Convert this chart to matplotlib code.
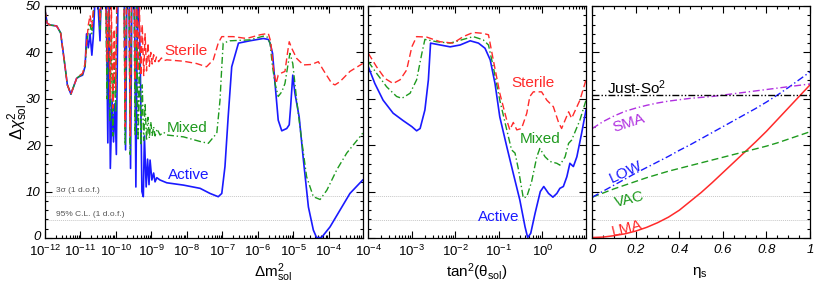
import numpy as np
import matplotlib
matplotlib.use("Agg")
import matplotlib.pyplot as plt
import matplotlib.transforms as mtransforms
from matplotlib.ticker import MultipleLocator, FixedLocator, FixedFormatter, NullFormatter, LogLocator

plt.rcParams['font.family'] = ['Liberation Sans', 'DejaVu Sans']
plt.rcParams['mathtext.fontset'] = 'custom'
plt.rcParams['mathtext.rm'] = 'Liberation Sans'
plt.rcParams['mathtext.it'] = 'Liberation Sans:italic'
plt.rcParams['mathtext.bf'] = 'Liberation Sans:bold'

# ---- panel 1: log10(dm2) vs delta chi2 (values above 50 are off scale)
act_lg = [-12.00, -11.94, -11.86, -11.67, -11.56, -11.46, -11.37, -11.27, -11.20, -11.11,
          -11.03, -10.94, -10.87, -10.83, -10.78, -10.73, -10.68, -10.64, -10.57, -10.53,
          -10.49, -10.45, -10.41, -10.28, -10.23, -10.20, -10.16, -10.11, -10.07, -10.03,
          -9.99, -9.94, -9.77, -9.73, -9.69, -9.63, -9.59, -9.55, -9.48, -9.44,
          -9.39, -9.32, -9.27, -9.23, -9.20, -9.15, -9.11, -9.07, -9.04, -8.99,
          -8.94, -8.90, -8.85, -8.76, -8.57, -8.10, -7.63, -7.35, -7.12, -7.02,
          -6.93, -6.84, -6.74, -6.55, -6.23, -5.85, -5.71, -5.66, -5.59, -5.52,
          -5.43, -5.33, -5.19, -5.12, -5.08, -5.02, -4.96, -4.84, -4.72, -4.58,
          -4.44, -4.35, -4.21, -3.97, -3.69, -3.41, -3.05]
act_chi = [49.1, 46.3, 45.9, 45.7, 44.2, 38.4, 33.0, 31.0, 32.5, 34.4,
           34.8, 35.1, 37.0, 44.0, 41.0, 44.0, 39.4, 43.3, 55.0, 55.0,
           48.0, 42.5, 55.0, 55.0, 20.5, 55.0, 15.0, 30.0, 20.7, 29.0,
           18.0, 55.0, 55.0, 19.0, 55.0, 55.0, 15.0, 55.0, 55.0, 11.0,
           55.0, 40.0, 10.0, 8.9, 22.0, 11.0, 17.0, 11.5, 16.8, 12.5,
           14.0, 12.1, 13.0, 12.5, 11.9, 11.4, 10.7, 9.6, 8.9, 9.6,
           15.4, 26.1, 36.9, 42.0, 42.5, 43.0, 42.8, 42.0, 39.8, 33.3,
           25.4, 23.1, 23.6, 24.4, 28.3, 35.1, 31.2, 26.1, 16.8, 6.7,
           1.7, 0.1, 0.1, 2.4, 6.0, 9.6, 12.5]

ste_lg = [-12.00, -11.94, -11.86, -11.67, -11.56, -11.46, -11.37, -11.27, -11.20, -11.11,
          -11.03, -10.94, -10.87, -10.83, -10.78, -10.73, -10.68, -10.64, -10.59, -10.50,
          -10.45, -10.40, -10.30, -10.25, -10.21, -10.17, -10.13, -10.09, -10.05, -10.01,
          -9.97, -9.78, -9.74, -9.70, -9.64, -9.60, -9.56, -9.50, -9.46, -9.42,
          -9.38, -9.34, -9.30, -9.26, -9.22, -9.18, -9.14, -9.10, -9.06, -9.02,
          -8.98, -8.94, -8.90, -8.86, -8.80, -8.72, -8.65, -8.57, -8.10, -7.73,
          -7.45, -7.26, -7.12, -7.02, -6.70, -6.32, -5.94, -5.71, -5.64, -5.57,
          -5.49, -5.43, -5.33, -5.24, -5.17, -5.12, -5.05, -4.91, -4.72, -4.49,
          -4.30, -4.16, -3.92, -3.83, -3.69, -3.41, -3.05]
ste_chi = [49.1, 46.3, 45.9, 45.7, 44.2, 38.4, 33.0, 31.0, 32.5, 34.4,
           35.0, 35.5, 37.7, 42.0, 45.9, 48.0, 45.5, 49.0, 55.0, 55.0,
           47.0, 55.0, 55.0, 38.0, 55.0, 30.0, 50.0, 28.0, 45.0, 32.0,
           55.0, 55.0, 24.0, 55.0, 55.0, 22.0, 55.0, 55.0, 34.0, 55.0,
           36.0, 50.0, 35.0, 46.0, 35.0, 44.0, 36.0, 42.0, 37.0, 40.0,
           37.5, 39.5, 38.0, 39.0, 38.0, 38.8, 38.2, 38.4, 38.1, 37.6,
           36.9, 38.4, 42.0, 43.4, 43.4, 43.0, 43.8, 44.1, 42.3, 36.9,
           33.3, 35.1, 35.6, 35.9, 39.8, 42.3, 40.9, 38.7, 37.3, 37.4,
           38.0, 36.2, 33.3, 33.0, 33.7, 35.9, 37.6]

mix_lg = [-12.00, -11.94, -11.86, -11.67, -11.56, -11.46, -11.37, -11.27, -11.20, -11.11,
          -11.03, -10.94, -10.87, -10.83, -10.78, -10.73, -10.68, -10.64, -10.59, -10.50,
          -10.45, -10.40, -10.30, -10.25, -10.21, -10.17, -10.13, -10.09, -10.05, -10.01,
          -9.97, -9.78, -9.74, -9.70, -9.64, -9.60, -9.56, -9.50, -9.46, -9.42,
          -9.38, -9.34, -9.30, -9.26, -9.22, -9.18, -9.14, -9.10, -9.06, -9.02,
          -8.98, -8.94, -8.90, -8.84, -8.76, -8.66, -8.57, -8.10, -7.63, -7.40,
          -7.16, -7.07, -7.02, -6.98, -6.79, -6.23, -5.85, -5.75, -5.66, -5.59,
          -5.52, -5.43, -5.33, -5.24, -5.15, -5.10, -5.02, -4.91, -4.77, -4.63,
          -4.44, -4.25, -4.06, -3.78, -3.50, -3.13, -3.05]
mix_chi = [49.1, 46.3, 45.9, 45.7, 44.2, 38.4, 33.0, 31.0, 32.5, 34.4,
           34.9, 35.3, 37.0, 41.0, 44.7, 46.0, 44.0, 48.0, 55.0, 55.0,
           45.0, 55.0, 55.0, 30.0, 55.0, 25.0, 45.0, 22.0, 40.0, 27.0,
           55.0, 55.0, 20.0, 55.0, 55.0, 18.0, 55.0, 55.0, 22.0, 50.0,
           21.0, 40.0, 20.0, 33.0, 21.0, 29.0, 21.0, 26.0, 21.5, 25.0,
           22.0, 24.0, 22.0, 23.5, 22.2, 22.8, 22.2, 21.8, 20.8, 20.4,
           22.6, 29.7, 36.9, 42.0, 42.5, 42.7, 43.5, 43.4, 42.0, 36.9,
           33.3, 30.5, 31.5, 33.3, 37.6, 39.8, 37.6, 29.7, 21.1, 13.2,
           8.9, 8.3, 10.3, 14.7, 18.3, 21.8, 22.6]

# ---- panel 2: log10(tan^2 theta) vs delta chi2
act2_lg = [-4.00, -3.85, -3.66, -3.43, -3.20, -3.00, -2.89, -2.81, -2.70, -2.62,
           -2.57, -2.35, -2.12, -1.89, -1.66, -1.47, -1.32, -1.20, -1.09, -0.98,
           -0.82, -0.67, -0.52, -0.40, -0.34, -0.27, -0.17, -0.05, 0.03, 0.14,
           0.24, 0.33, 0.40, 0.48, 0.56, 0.63, 0.71, 0.79, 0.90, 1.00]
act2_chi = [36.9, 33.3, 29.7, 26.9, 25.3, 24.0, 23.1, 23.6, 27.6, 34.1,
            42.0, 41.6, 41.2, 41.6, 42.5, 42.0, 40.9, 38.4, 33.3, 26.1,
            19.7, 13.9, 8.2, 2.4, 0.1, 1.0, 5.3, 10.0, 11.1, 9.6,
            8.8, 9.6, 10.7, 11.1, 13.2, 16.1, 15.4, 17.5, 22.6, 27.6]

mix2_lg = [-4.00, -3.81, -3.58, -3.35, -3.23, -3.04, -2.89, -2.77, -2.70, -2.43,
           -2.12, -1.82, -1.59, -1.36, -1.24, -1.13, -0.98, -0.82, -0.71, -0.63,
           -0.55, -0.44, -0.36, -0.25, -0.13, -0.06, 0.06, 0.17, 0.33, 0.40,
           0.52, 0.60, 0.67, 0.86, 1.00]
mix2_chi = [38.0, 35.5, 32.6, 30.5, 30.1, 31.2, 34.1, 39.8, 42.8, 42.3,
            42.0, 42.8, 43.4, 42.7, 41.6, 36.9, 29.7, 23.3, 19.0, 18.3,
            14.7, 8.6, 8.9, 12.1, 17.5, 19.3, 17.5, 16.5, 16.1, 15.7,
            17.5, 20.4, 21.1, 25.4, 29.7]

ste2_lg = [-4.00, -3.81, -3.62, -3.43, -3.27, -3.12, -3.00, -2.89, -2.66, -2.35,
           -2.05, -1.82, -1.59, -1.36, -1.24, -1.13, -0.98, -0.82, -0.75, -0.67,
           -0.59, -0.48, -0.36, -0.29, -0.21, -0.02, 0.10, 0.25, 0.37, 0.44,
           0.52, 0.60, 0.67, 0.86, 1.00]
ste2_chi = [39.8, 36.9, 34.4, 33.3, 34.1, 36.2, 41.2, 43.4, 43.3, 42.3,
            42.0, 43.4, 44.3, 44.1, 43.8, 38.4, 31.2, 25.4, 23.3, 24.9,
            23.3, 23.6, 26.9, 30.5, 31.5, 31.5, 29.7, 28.3, 24.9, 23.6,
            25.4, 27.2, 25.8, 29.7, 34.1]

# ---- panel 3: eta_s vs delta chi2
eta = [0.0, 0.05, 0.1, 0.15, 0.2, 0.25, 0.3, 0.35, 0.4, 0.45, 0.5,
       0.55, 0.6, 0.65, 0.7, 0.75, 0.8, 0.85, 0.9, 0.95, 1.0]
lma = [0.1, 0.2, 0.5, 0.9, 1.5, 2.3, 3.3, 4.5, 6.0, 7.9, 9.8,
       11.9, 14.1, 16.3, 18.5, 20.7, 23.0, 25.5, 28.0, 30.5, 33.0]
vac = [8.8, 9.7, 10.6, 11.4, 12.2, 13.0, 13.7, 14.4, 15.0, 15.6, 16.2,
       16.8, 17.4, 18.0, 18.6, 19.2, 19.8, 20.5, 21.3, 22.1, 22.9]
low = [8.8, 10.1, 11.4, 12.7, 14.0, 15.2, 16.4, 17.6, 18.9, 20.1, 21.4,
       22.7, 24.0, 25.3, 26.6, 27.9, 29.3, 30.8, 32.4, 34.1, 35.8]
sma = [23.6, 25.1, 26.3, 27.3, 28.0, 28.6, 29.1, 29.5, 29.8, 30.1, 30.3,
       30.5, 30.8, 31.1, 31.4, 31.7, 32.0, 32.3, 32.6, 32.9, 33.2]
justso = [30.9] * len(eta)

cl_lines = [9.0, 3.84]

BLUE = '#1a1aff'
RED = '#ff2a2a'
GREEN = '#1e9a1e'
PURPLE = '#b030e0'

fig = plt.figure(figsize=(8.14, 2.84), dpi=100)
ax1 = fig.add_axes([45 / 814, 46 / 284, 317.7 / 814, 232 / 284])
ax2 = fig.add_axes([368.3 / 814, 46 / 284, 217.7 / 814, 232 / 284])
ax3 = fig.add_axes([592.3 / 814, 46 / 284, 217.7 / 814, 232 / 284])


def it_labels(exps):
    return [r'$\mathit{10^{%d}}$' % e for e in exps]


def style_axes(ax):
    ax.set_ylim(0, 50)
    ax.yaxis.set_major_locator(MultipleLocator(10))
    ax.yaxis.set_minor_locator(MultipleLocator(2))
    ax.tick_params(which='both', direction='in', top=True, right=True,
                   width=0.8, labelsize=9.5, pad=3)
    ax.tick_params(axis='x', which='both', pad=4)
    ax.tick_params(which='major', length=5)
    ax.tick_params(which='minor', length=2.5)
    for s in ax.spines.values():
        s.set_linewidth(0.9)
    for y in cl_lines:
        ax.axhline(y, color='#c8c8c8', lw=0.7, ls=(0, (1, 1)), zorder=0)


for ax in (ax1, ax2, ax3):
    style_axes(ax)

# panel 1
ax1.set_xscale('log')
ax1.set_xlim(1e-12, 10 ** -3.05)
ax1.plot(10 ** np.array(act_lg), act_chi, color=BLUE, lw=1.2)
ax1.plot(10 ** np.array(mix_lg), mix_chi, color=GREEN, lw=1.0, ls=(0, (5, 2, 1, 2)))
ax1.plot(10 ** np.array(ste_lg), ste_chi, color=RED, lw=1.0, ls=(0, (5, 2.5)))
ax1.xaxis.set_major_locator(FixedLocator([10.0 ** e for e in range(-12, -3)]))
ax1.xaxis.set_major_formatter(FixedFormatter(it_labels(range(-12, -3))))
ax1.xaxis.set_minor_locator(LogLocator(base=10, subs=np.arange(2, 10), numticks=20))
ax1.xaxis.set_minor_formatter(NullFormatter())
ax1.set_yticks([0, 10, 20, 30, 40, 50])
ax1.set_yticklabels(['0', '10', '20', '30', '40', '50'], style='italic')
# lift the "0" a little so it clears the 10^-12 label
zero_lab = ax1.get_yticklabels()[0]
zero_lab.set_transform(zero_lab.get_transform() +
                       mtransforms.ScaledTranslation(0, 3 / 100, fig.dpi_scale_trans))
ax1.text(10 ** -8.04, 40.4, 'Sterile', color=RED, fontsize=11, ha='center', va='center')
ax1.text(10 ** -8.01, 23.8, 'Mixed', color=GREEN, fontsize=11, ha='center', va='center')
ax1.text(10 ** -7.96, 13.6, 'Active', color=BLUE, fontsize=11, ha='center', va='center')
ax1.text(10 ** -11.7, 9.5, '3σ (1 d.o.f.)', color='#555555', fontsize=6, va='bottom')
ax1.text(10 ** -11.7, 4.3, '95% C.L. (1 d.o.f.)', color='#555555', fontsize=6, va='bottom')

# panel 2
ax2.set_xscale('log')
ax2.set_xlim(1e-4, 10)
ax2.plot(10 ** np.array(act2_lg), act2_chi, color=BLUE, lw=1.2)
ax2.plot(10 ** np.array(mix2_lg), mix2_chi, color=GREEN, lw=1.0, ls=(0, (5, 2, 1, 2)))
ax2.plot(10 ** np.array(ste2_lg), ste2_chi, color=RED, lw=1.0, ls=(0, (5, 2.5)))
ax2.xaxis.set_major_locator(FixedLocator([10.0 ** e for e in range(-4, 1)]))
ax2.xaxis.set_major_formatter(FixedFormatter(it_labels(range(-4, 1))))
ax2.xaxis.set_minor_locator(LogLocator(base=10, subs=np.arange(2, 10), numticks=20))
ax2.xaxis.set_minor_formatter(NullFormatter())
ax2.set_yticklabels([])
ax2.text(10 ** -0.21, 33.5, 'Sterile', color=RED, fontsize=11, ha='center', va='center')
ax2.text(10 ** -0.05, 21.3, 'Mixed', color=GREEN, fontsize=11, ha='center', va='center')
ax2.text(10 ** -1.01, 4.6, 'Active', color=BLUE, fontsize=11, ha='center', va='center')

# panel 3
ax3.set_xlim(0, 1)
ax3.plot(eta, lma, color=RED, lw=1.1)
ax3.plot(eta, vac, color=GREEN, lw=1.0, ls=(0, (5, 2.5)))
ax3.plot(eta, low, color=BLUE, lw=1.0, ls=(0, (5, 2, 1, 2)))
ax3.plot(eta, sma, color=PURPLE, lw=1.0, ls=(0, (5, 2, 1, 2)))
ax3.plot(eta, justso, color='black', lw=1.0, ls=(0, (5, 1.5, 1, 1.5, 1, 1.5)))
ax3.xaxis.set_minor_locator(MultipleLocator(0.05))
ax3.set_xticks([0, 0.2, 0.4, 0.6, 0.8, 1.0])
ax3.set_xticklabels(['0', '0.2', '0.4', '0.6', '0.8', '1'], style='italic')
ax3.set_yticklabels([])
ax3.text(0.204, 32.4, 'Just-So$^2$', color='black', fontsize=11, ha='center', va='center')
ax3.text(0.17, 24.8, 'SMA', color=PURPLE, fontsize=11, ha='center', va='center', rotation=18)
ax3.text(0.153, 14.3, 'LOW', color=BLUE, fontsize=11, ha='center', va='center', rotation=25)
ax3.text(0.173, 8.2, 'VAC', color=GREEN, fontsize=11, ha='center', va='center', rotation=14)
ax3.text(0.158, 2.1, 'LMA', color=RED, fontsize=11, ha='center', va='center', rotation=14)

# axis titles
fig.text(273 / 814, 1 - 272.5 / 284, r'$\Delta\mathrm{m}^2_{\mathrm{sol}}$', fontsize=11, ha='center', va='center')
fig.text(477 / 814, 1 - 272.5 / 284, r'$\mathrm{tan}^2(\mathrm{\theta}_{\mathrm{sol}})$', fontsize=11, ha='center', va='center')
fig.text(700 / 814, 1 - 272.5 / 284, r'$\mathrm{\eta}_{\mathrm{s}}$', fontsize=11, ha='center', va='center')
fig.text(18 / 814, 1 - 122 / 284, r'$\Delta\chi^2_{\mathrm{sol}}$', fontsize=12, ha='center', va='center', rotation=90)

fig.savefig('out.png', dpi=100)
